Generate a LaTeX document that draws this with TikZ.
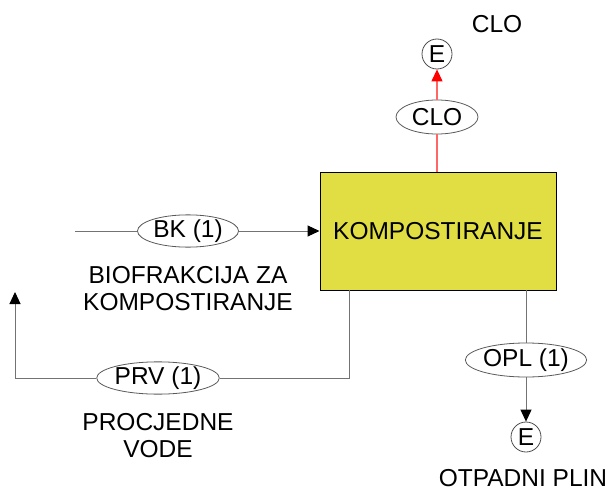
\documentclass[tikz,border=0pt]{standalone}
\usepackage{fontspec}
\setmainfont{Liberation Sans}
\usepackage{tikz}
\usetikzlibrary{positioning,shapes.geometric,arrows.meta}
\usepackage{xcolor}
\definecolor{procyellow}{RGB}{224,222,66}

\begin{document}
\begin{tikzpicture}[x=1pt, y=-1pt, every node/.style={font=\fontsize{24.5}{27}\selectfont}]
\tikzstyle{proc}=[draw, line width=1pt, fill=procyellow, minimum width=236pt, minimum height=118pt, inner sep=0pt]
\tikzstyle{flow}=[draw=black!65, ellipse, line width=0.8pt, inner sep=0pt]
\tikzstyle{ext}=[draw=black!70, circle, line width=0.8pt, minimum size=30pt, inner sep=0pt]
\tikzstyle{pipe}=[draw=black!55, line width=1pt, -{Triangle[length=12pt,width=11pt,color=black]}]
\tikzstyle{hot}=[draw=red!60, line width=1.2pt, -{Triangle[length=12pt,width=11pt,color=red]}]
\useasboundingbox (0,0) rectangle (613,492);
\node[proc] (komp) at (438,231) {KOMPOSTIRANJE};
\node[flow, minimum width=82pt, minimum height=34pt] (clo) at (437,117) {CLO};
\node[ext] (eclo) at (437,54) {E};
\node (clotxt) at (497,24) {CLO};
\coordinate (bkin) at (75,231);
\node[flow, minimum width=101pt, minimum height=31pt] (bk) at (188,231) {BK (1)};
\node[align=center] (bktxt) at (188,289) {BIOFRAKCIJA ZA\\KOMPOSTIRANJE};
\coordinate (kout) at (349,290);
\coordinate (kcorner) at (349,378);
\node[flow, minimum width=120pt, minimum height=32pt] (prv) at (158,378) {PRV (1)};
\coordinate (lcorner) at (15,378);
\coordinate (lend) at (15,292);
\node[align=center] (prvtxt) at (158,436) {PROCJEDNE\\VODE};
\coordinate (gout) at (526,290);
\node[flow, minimum width=117pt, minimum height=34pt] (opl) at (526,360) {OPL (1)};
\node[ext] (eopl) at (526,437) {E};
\node (opltxt) at (523,478) {OTPADNI PLIN};
% flows
\draw[pipe, -] (bkin) -- (bk);
\draw[pipe] (bk) -- (komp);
\draw[pipe, -] (kout) -- (kcorner) -- (prv);
\draw[pipe] (prv) -- (lcorner) -- (lend);
\draw[pipe, -] (gout) -- (opl);
\draw[pipe] (opl) -- (eopl);
\draw[hot, -] (clo |- komp.north) -- (clo);
\draw[hot] (clo) -- (eclo);
\end{tikzpicture}
\end{document}
